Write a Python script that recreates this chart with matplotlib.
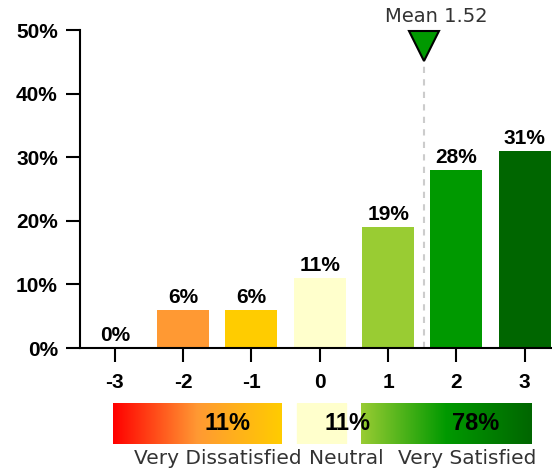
import numpy as np
import matplotlib
matplotlib.use('Agg')
import matplotlib.pyplot as plt
import matplotlib.colors as mcolors

# Datos del gráfico
scores = [-3, -2, -1, 0, 1, 2, 3]
percents = [0, 6, 6, 11, 19, 28, 31]
bar_colors = ['#FF0000', '#FF9933', '#FFCC00', '#FFFFCC', '#99CC33', '#009900', '#006600']
mean_score = 1.52

y_ticks = [0, 10, 20, 30, 40, 50]
group_names = ['Very Dissatisfied', 'Neutral', 'Very Satisfied']
group_percents = [11, 11, 78]

BOLD = dict(fontweight='bold', family='Liberation Sans')

fig = plt.figure(figsize=(5.52, 4.71), dpi=100)
ax = fig.add_axes([80 / 552, 1 - 348 / 471, 1 - 80 / 552, 318 / 471])

ax.bar(scores, percents, width=0.76, color=bar_colors, zorder=2)
for s, p in zip(scores, percents):
    ax.annotate(f"{p}%", (s, p), xytext=(0, 2), textcoords='offset points',
                ha='center', va='bottom', fontsize=15, **BOLD)

ax.set_xlim(-3.51, 3.40)
ax.set_ylim(0, 50)
ax.set_xticks(scores)
ax.set_xticklabels([str(s) for s in scores], fontsize=15, **BOLD)
ax.set_yticks(y_ticks)
ax.set_yticklabels([f"{t}%" for t in y_ticks], fontsize=15, **BOLD)
ax.tick_params(axis='both', direction='out', length=10, width=1.5, color='black')
ax.tick_params(axis='x', pad=8)
ax.tick_params(axis='y', pad=6)
for side in ['top', 'right']:
    ax.spines[side].set_visible(False)
for side in ['left', 'bottom']:
    ax.spines[side].set_linewidth(1.5)

# Línea de la media
ax.plot([mean_score, mean_score], [0, 45], ls=(0, (3, 3)), color='#cccccc', lw=1.5, zorder=1)
ax.plot(mean_score, 47.5, marker='v', ms=21, color='#009900', mec='black', mew=1.5,
        clip_on=False, zorder=5)
ax.annotate(f"Mean {mean_score}", (mean_score, 50), xytext=(9, 10), textcoords='offset points',
            ha='center', va='center', fontsize=14, color='#333333', annotation_clip=False)

# Barras de resumen con degradado
bax = fig.add_axes([80 / 552, 1 - 444 / 471, 1 - 80 / 552, 41 / 471])
bax.set_xlim(ax.get_xlim())
bax.set_ylim(0, 1)
bax.axis('off')

red_cmap = mcolors.LinearSegmentedColormap.from_list('neg', ['#FF0000', '#FF9933', '#FFCC00'])
green_cmap = mcolors.LinearSegmentedColormap.from_list('pos', ['#99CC33', '#009900', '#006600'])
grad = np.linspace(0, 1, 256).reshape(1, -1)
bax.imshow(grad, cmap=red_cmap, extent=(-3.03, -0.57, 0, 1), aspect='auto')
bax.imshow(grad, cmap=green_cmap, extent=(0.60, 3.09, 0, 1), aspect='auto')
bax.add_patch(plt.Rectangle((-0.34, 0), 0.73, 1, color='#FFFFCC'))

for x, p in zip([-1.35, 0.41, 2.28], group_percents):
    bax.text(x, 0.5, f"{p}%", ha='center', va='center', fontsize=17, zorder=6, **BOLD)

for x, name in zip([-2.72, -0.16, 1.14], group_names):
    bax.text(x, -0.36, name, ha='left', va='center', fontsize=14.5, color='#333333',
             clip_on=False)

fig.savefig('out.png', dpi=100)
